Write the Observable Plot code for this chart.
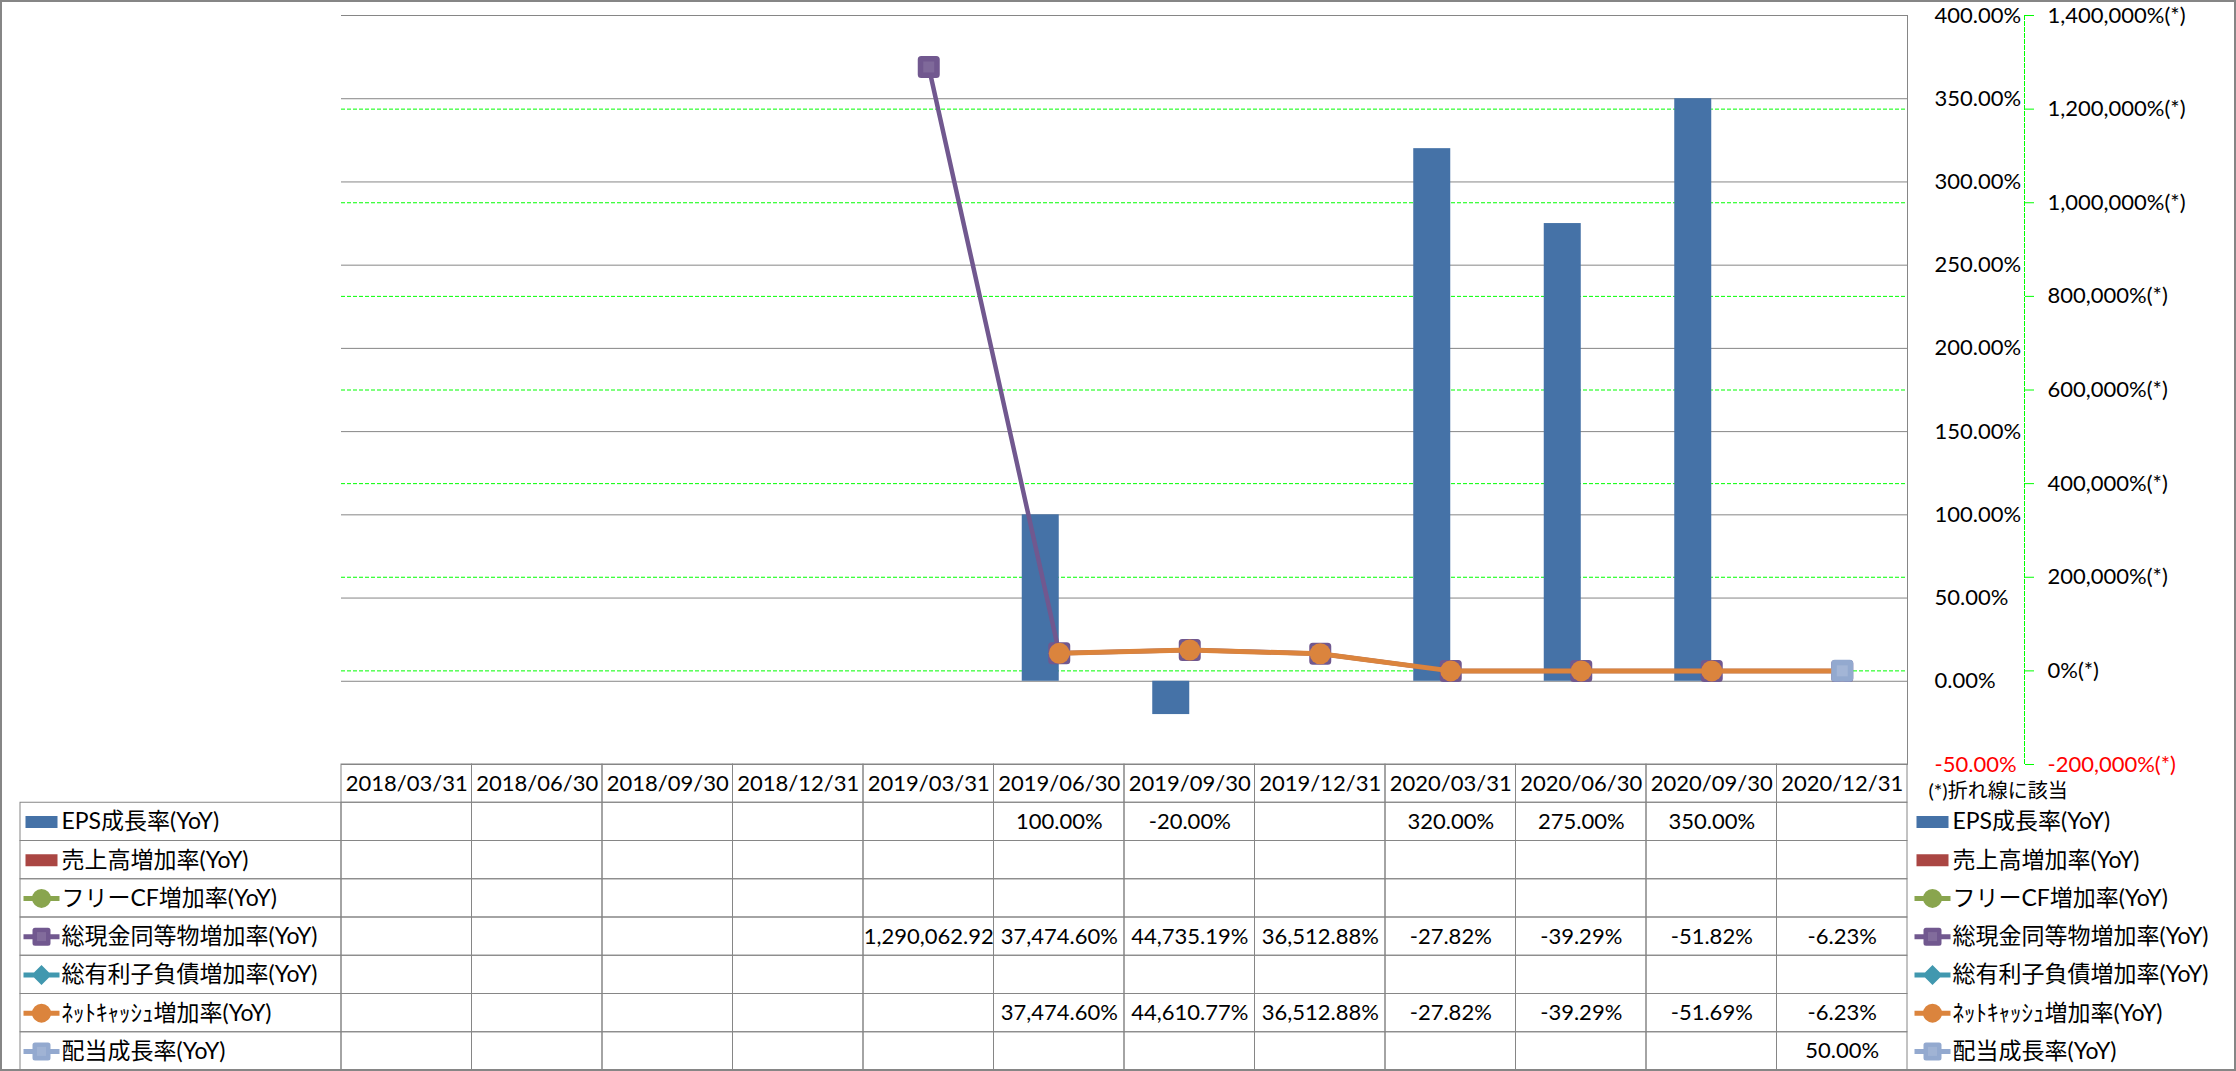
<!DOCTYPE html>
<html><head><meta charset="utf-8">
<script src="https://cdn.jsdelivr.net/npm/d3@7"></script>
<script src="https://cdn.jsdelivr.net/npm/@observablehq/plot@0.6"></script>
<style>
body{margin:0;background:#fff;}
#wrap{position:relative;width:2236px;height:1071px;overflow:hidden;background:#fff;}
#wrap svg{position:absolute;left:0;}
#border{position:absolute;left:0;top:0;width:2236px;height:1071px;box-sizing:border-box;border:2px solid #868686;pointer-events:none;}
</style></head><body><div id="wrap"><div id="border"></div></div>
<script>
// ---------- data ----------
const categories = ["2018/03/31","2018/06/30","2018/09/30","2018/12/31","2019/03/31","2019/06/30","2019/09/30","2019/12/31","2020/03/31","2020/06/30","2020/09/30","2020/12/31"];
const seriesNames = ["EPS成長率(YoY)","売上高増加率(YoY)","フリーCF増加率(YoY)","総現金同等物増加率(YoY)","総有利子負債増加率(YoY)","ﾈｯﾄｷｬｯｼｭ増加率(YoY)","配当成長率(YoY)"];
const seriesColors = ["#4572A7","#AA4643","#89A54E","#71588F","#4198AF","#DB843D","#93A9CF"];
const seriesKinds = ["bar","bar","circle","square","diamond","circle","square"];
const epsGrowth      = [null,null,null,null,null,100.00,-20.00,null,320.00,275.00,350.00,null];
const salesGrowth    = [null,null,null,null,null,null,null,null,null,null,null,null];
const freeCfGrowth   = [null,null,null,null,null,null,null,null,null,null,null,null];
const cashGrowth     = [null,null,null,null,1290062.92,37474.60,44735.19,36512.88,-27.82,-39.29,-51.82,-6.23];
const debtGrowth     = [null,null,null,null,null,null,null,null,null,null,null,null];
const netCashGrowth  = [null,null,null,null,null,37474.60,44610.77,36512.88,-27.82,-39.29,-51.69,-6.23];
const dividendGrowth = [null,null,null,null,null,null,null,null,null,null,null,50.00];
const seriesValues = [epsGrowth, salesGrowth, freeCfGrowth, cashGrowth, debtGrowth, netCashGrowth, dividendGrowth];
const primaryTicks = [-50,0,50,100,150,200,250,300,350,400];
const secondaryTicks = [-200000,0,200000,400000,600000,800000,1000000,1200000,1400000];
const secondaryNote = "(*)折れ線に該当";

// ---------- helpers ----------
const FONT = "Lato, 'Noto Sans CJK JP', sans-serif";
const GRAY = "#868686", GREEN = "#00ff00";
const W = 2236, ML = 341, MR = 329;
const bandW = (W - ML - MR) / categories.length;
const pMin = primaryTicks[0], pMax = primaryTicks[primaryTicks.length-1];
const sMin = secondaryTicks[0], sMax = secondaryTicks[secondaryTicks.length-1];
const toP = v => pMin + (v - sMin) * (pMax - pMin) / (sMax - sMin);
const loc = d3.formatLocale({decimal: ".", thousands: ",", grouping: [3], currency: ["", ""], minus: "-"});
const f2 = loc.format(".2f"), fc = loc.format(","), fc2 = loc.format(",.2f");
const fmtP = d => f2(d) + "%";
const fmtS = d => fc(d) + "%(*)";
const fmtCell = v => Math.abs(v) >= 1e6 ? fc2(v) : fc2(v) + "%";

function roundedSquare(s, r) {
  return {draw(ctx) {
    const h = s/2;
    ctx.moveTo(-h + r, -h); ctx.lineTo(h - r, -h); ctx.arcTo(h, -h, h, -h + r, r);
    ctx.lineTo(h, h - r); ctx.arcTo(h, h, h - r, h, r);
    ctx.lineTo(-h + r, h); ctx.arcTo(-h, h, -h, h - r, r);
    ctx.lineTo(-h, -h + r); ctx.arcTo(-h, -h, -h + r, -h, r); ctx.closePath();
  }};
}
function plainSquare(s) { return {draw(ctx){ ctx.rect(-s/2, -s/2, s, s); }}; }
function legendIcon(kind) {
  return {draw(ctx) {
    if (kind === "bar") { ctx.rect(-16, -6, 32, 12); return; }
    ctx.rect(-18, -2.5, 36, 5);
    if (kind === "circle") { ctx.moveTo(9.5, 0); ctx.arc(0, 0, 9.5, 0, 2*Math.PI); }
    else if (kind === "diamond") { ctx.moveTo(0,-10); ctx.lineTo(10,0); ctx.lineTo(0,10); ctx.lineTo(-10,0); ctx.closePath(); }
    else { const h = 9, r = 2.5;
      ctx.moveTo(-h + r, -h); ctx.lineTo(h - r, -h); ctx.arcTo(h, -h, h, -h + r, r);
      ctx.lineTo(h, h - r); ctx.arcTo(h, h, h - r, h, r);
      ctx.lineTo(-h + r, h); ctx.arcTo(-h, h, -h, h - r, r);
      ctx.lineTo(-h, -h + r); ctx.arcTo(-h, -h, -h + r, -h, r); ctx.closePath(); }
  }};
}

const rows = categories.map((cat, i) => ({cat, eps: epsGrowth[i], sales: salesGrowth[i], cash: cashGrowth[i], net: netCashGrowth[i], div: dividendGrowth[i]}));
const epsRows = rows.filter(d => d.eps != null);
const salesRows = rows.filter(d => d.sales != null);
const cashRows = rows.filter(d => d.cash != null);
const netRows = rows.filter(d => d.net != null);
const divRows = rows.filter(d => d.div != null);
const style = {fontFamily: FONT, fontSize: "22px", color: "#000", background: "transparent", overflow: "visible"};

// ---------- chart ----------
const chart = Plot.plot({
  width: W, height: 770, marginLeft: ML, marginRight: MR, marginTop: 15, marginBottom: 6,
  x: {type: "band", domain: categories, padding: 0, round: false, axis: null},
  y: {domain: [pMin, pMax], axis: null},
  style,
  marks: [
    Plot.ruleY(secondaryTicks, {y: d => toP(d), stroke: GREEN, strokeWidth: 1, strokeDasharray: "4,2"}),
    Plot.ruleY(primaryTicks, {y: d => d, stroke: GRAY, strokeWidth: 1}),
    Plot.frame({anchor: "right", stroke: GRAY}),
    Plot.frame({anchor: "right", dx: 117, stroke: GREEN, strokeDasharray: "4,2"}),
    Plot.axisY(secondaryTicks.map(toP), {anchor: "right", dx: 117, tickSize: 9, tickFormat: () => "", color: GREEN}),
    Plot.barY(epsRows, {x: "cat", y: "eps", fill: seriesColors[0], insetLeft: bandW/2 - 37, insetRight: bandW/2}),
    Plot.barY(salesRows, {x: "cat", y: "sales", fill: seriesColors[1], insetLeft: bandW/2, insetRight: bandW/2 - 37}),
    Plot.line(cashRows, {x: "cat", y: d => toP(d.cash), stroke: seriesColors[3], strokeWidth: 4.5}),
    Plot.dot(cashRows, {x: "cat", y: d => toP(d.cash), symbol: roundedSquare(22, 3.5), fill: seriesColors[3], stroke: "none"}),
    Plot.dot(cashRows, {x: "cat", y: d => toP(d.cash), symbol: plainSquare(11), fill: "#fff", fillOpacity: 0.1, stroke: "none"}),
    Plot.line(netRows, {x: "cat", y: d => toP(d.net), stroke: seriesColors[5], strokeWidth: 5}),
    Plot.dot(netRows, {x: "cat", y: d => toP(d.net), r: 10.5, fill: seriesColors[5], stroke: "none"}),
    Plot.dot(divRows, {x: "cat", y: d => toP(d.div), symbol: roundedSquare(22, 3.5), fill: seriesColors[6], stroke: "none"}),
    Plot.dot(divRows, {x: "cat", y: d => toP(d.div), symbol: plainSquare(11), fill: "#fff", fillOpacity: 0.15, stroke: "none"}),
    Plot.text(primaryTicks, {y: d => d, text: fmtP, frameAnchor: "right", dx: 27, textAnchor: "start", fill: d => d < 0 ? "#ff0000" : "#000"}),
    Plot.text(secondaryTicks, {y: d => toP(d), text: fmtS, frameAnchor: "right", dx: 140, textAnchor: "start", fill: d => d < 0 ? "#ff0000" : "#000"})
  ]
});
chart.style.top = "0px";

// ---------- data table ----------
const tableRows = ["header", ...seriesNames];
const gridCells = [];
const valueCells = [];
tableRows.forEach(r => categories.forEach(c => gridCells.push({row: r, cat: c})));
seriesNames.forEach((s, k) => seriesValues[k].forEach((v, i) => { if (v != null) valueCells.push({row: s, cat: categories[i], label: fmtCell(v)}); }));

const legendMarks = [];
seriesNames.forEach((s, k) => {
  legendMarks.push(Plot.dot([s], {y: d => d, frameAnchor: "right", dx: 25, symbol: legendIcon(seriesKinds[k]), fill: seriesColors[k], stroke: "none"}));
  if (seriesKinds[k] === "square") legendMarks.push(Plot.dot([s], {y: d => d, frameAnchor: "right", dx: 25, symbol: plainSquare(9), fill: "#fff", fillOpacity: 0.12, stroke: "none"}));
});

const table = Plot.plot({
  width: W, height: 307, marginLeft: ML, marginRight: MR, marginTop: 0, marginBottom: 1,
  x: {type: "band", domain: categories, padding: 0, round: false, axis: null},
  y: {type: "band", domain: tableRows, padding: 0, round: false, axis: null},
  style,
  marks: [
    Plot.cell(gridCells, {x: "cat", y: "row", fill: "none", stroke: GRAY, strokeWidth: 1}),
    Plot.text(categories, {x: d => d, y: () => "header", text: d => d}),
    Plot.text(valueCells, {x: "cat", y: "row", text: "label"}),
    Plot.text([secondaryNote], {y: () => "header", text: d => d, frameAnchor: "right", dx: 21, dy: 8, textAnchor: "start", fontSize: 20}),
    ...legendMarks,
    Plot.text(seriesNames, {y: d => d, text: d => d, frameAnchor: "right", dx: 45, textAnchor: "start", fontSize: 23})
  ]
});
table.style.top = "764px";

// ---------- legend column of the table ----------
const leftIcons = [];
seriesNames.forEach((s, k) => {
  leftIcons.push(Plot.dot([s], {y: d => d, frameAnchor: "left", dx: 21, symbol: legendIcon(seriesKinds[k]), fill: seriesColors[k], stroke: "none"}));
  if (seriesKinds[k] === "square") leftIcons.push(Plot.dot([s], {y: d => d, frameAnchor: "left", dx: 21, symbol: plainSquare(9), fill: "#fff", fillOpacity: 0.12, stroke: "none"}));
});
const legendCol = Plot.plot({
  width: ML, height: 307, marginLeft: 20, marginRight: 0, marginTop: 0, marginBottom: 1,
  x: {type: "band", domain: ["label"], padding: 0, round: false, axis: null},
  y: {type: "band", domain: tableRows, padding: 0, round: false, axis: null},
  style,
  marks: [
    Plot.cell(seriesNames, {x: () => "label", y: d => d, fill: "none", stroke: GRAY, strokeWidth: 1}),
    ...leftIcons,
    Plot.text(seriesNames, {y: d => d, text: d => d, frameAnchor: "left", dx: 41, textAnchor: "start", fontSize: 23})
  ]
});
legendCol.style.top = "764px";

const wrap = document.getElementById("wrap");
wrap.insertBefore(chart, wrap.firstChild);
wrap.insertBefore(table, document.getElementById("border"));
wrap.insertBefore(legendCol, document.getElementById("border"));
</script>
</body></html>
